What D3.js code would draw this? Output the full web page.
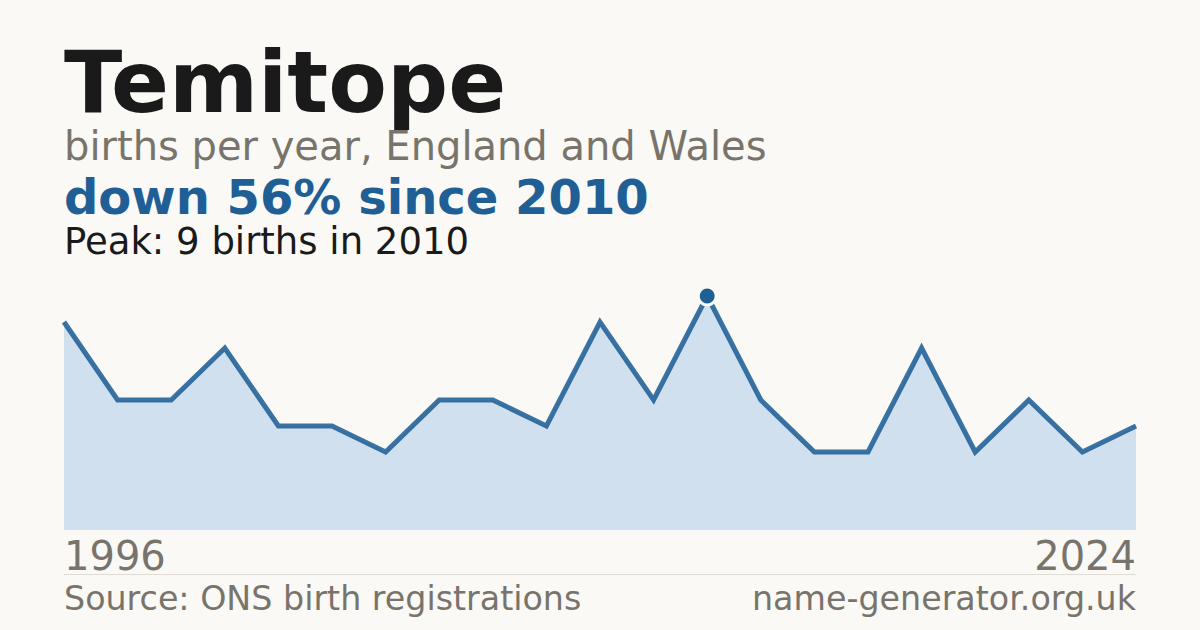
<!DOCTYPE html>
<html>
<head>
<meta charset="utf-8">
<script src="https://cdn.jsdelivr.net/npm/d3@7"></script>
<style>
    body { margin: 0; background: #faf9f5; }
    svg { display: block; font-family: "DejaVu Sans", sans-serif; }
</style>
</head>
<body>
<div id="chart"></div>
<script>
    // years with published counts (suppressed years are left out)
    const years = [1996, 1998, 1999, 2000, 2001, 2002, 2003, 2004, 2006, 2007, 2008,
                   2009, 2010, 2011, 2013, 2015, 2016, 2018, 2019, 2021, 2024];
    const births = [8, 5, 5, 7, 4, 4, 3, 5, 5, 4, 8, 5, 9, 5, 3, 3, 7, 3, 5, 3, 4];
    const axisLabels = [1996, 2024];

    const width = 1200, height = 630;
    const margin = {left: 64, right: 64};
    const plotTop = 296, plotBottom = 530;

    let svg = d3.select("#chart")
        .append("svg")
        .attr("width", width)
        .attr("height", height);

    svg.append("rect")
        .attr("width", width)
        .attr("height", height)
        .style("fill", "#faf9f5");

    // header texts
    svg.append("text")
        .attr("x", margin.left)
        .attr("y", 112)
        .style("font-size", "85.5px")
        .style("font-weight", "bold")
        .style("fill", "#1a1a1a")
        .text("Temitope");

    svg.append("text")
        .attr("x", margin.left)
        .attr("y", 160)
        .style("font-size", "40px")
        .style("fill", "#78746c")
        .text("births per year, England and Wales");

    svg.append("text")
        .attr("x", margin.left)
        .attr("y", 214)
        .style("font-size", "48px")
        .style("font-weight", "bold")
        .style("fill", "#1f5f96")
        .text("down 56% since 2010");

    svg.append("text")
        .attr("x", margin.left)
        .attr("y", 254)
        .style("font-size", "37px")
        .style("fill", "#1a1a1a")
        .text("Peak: 9 births in 2010");

    // scales
    let x = d3.scalePoint()
        .domain(years)
        .range([margin.left, width - margin.right]);

    let y = d3.scaleLinear()
        .domain([0, d3.max(births)])
        .range([plotBottom, plotTop]);

    const data = years.map((yr, i) => ({year: yr, value: births[i]}));

    svg.append("path")
        .datum(data)
        .attr("d", d3.area()
            .x(d => x(d.year))
            .y0(y(0))
            .y1(d => y(d.value)))
        .style("fill", "#d0e0ef");

    svg.append("path")
        .datum(data)
        .attr("d", d3.line()
            .x(d => x(d.year))
            .y(d => y(d.value)))
        .style("fill", "none")
        .style("stroke", "#1f5f96")
        .style("stroke-width", 5)
        .style("stroke-opacity", 0.88);

    // peak marker
    let peak = data.reduce((a, b) => b.value > a.value ? b : a);
    svg.append("circle")
        .attr("cx", x(peak.year))
        .attr("cy", y(peak.value))
        .attr("r", 9)
        .style("fill", "#1f5f96")
        .style("stroke", "#faf9f5")
        .style("stroke-width", 3);

    // first and last year
    svg.selectAll(".yearLabel")
        .data(axisLabels)
        .join("text")
        .attr("class", "yearLabel")
        .attr("x", d => x(d))
        .attr("y", 570)
        .attr("text-anchor", (d, i) => i == 0 ? "start" : "end")
        .style("font-size", "40px")
        .style("fill", "#78746c")
        .text(d => d);

    svg.append("line")
        .attr("x1", margin.left)
        .attr("x2", width - margin.right)
        .attr("y1", 574.5)
        .attr("y2", 574.5)
        .style("stroke", "#e0dcd4")
        .style("stroke-width", 1);

    svg.append("text")
        .attr("x", margin.left)
        .attr("y", 610)
        .style("font-size", "33.3px")
        .style("fill", "#78746c")
        .text("Source: ONS birth registrations");

    svg.append("text")
        .attr("x", width - margin.right)
        .attr("y", 610)
        .attr("text-anchor", "end")
        .style("font-size", "33.3px")
        .style("fill", "#78746c")
        .text("name-generator.org.uk");
</script>
</body>
</html>
